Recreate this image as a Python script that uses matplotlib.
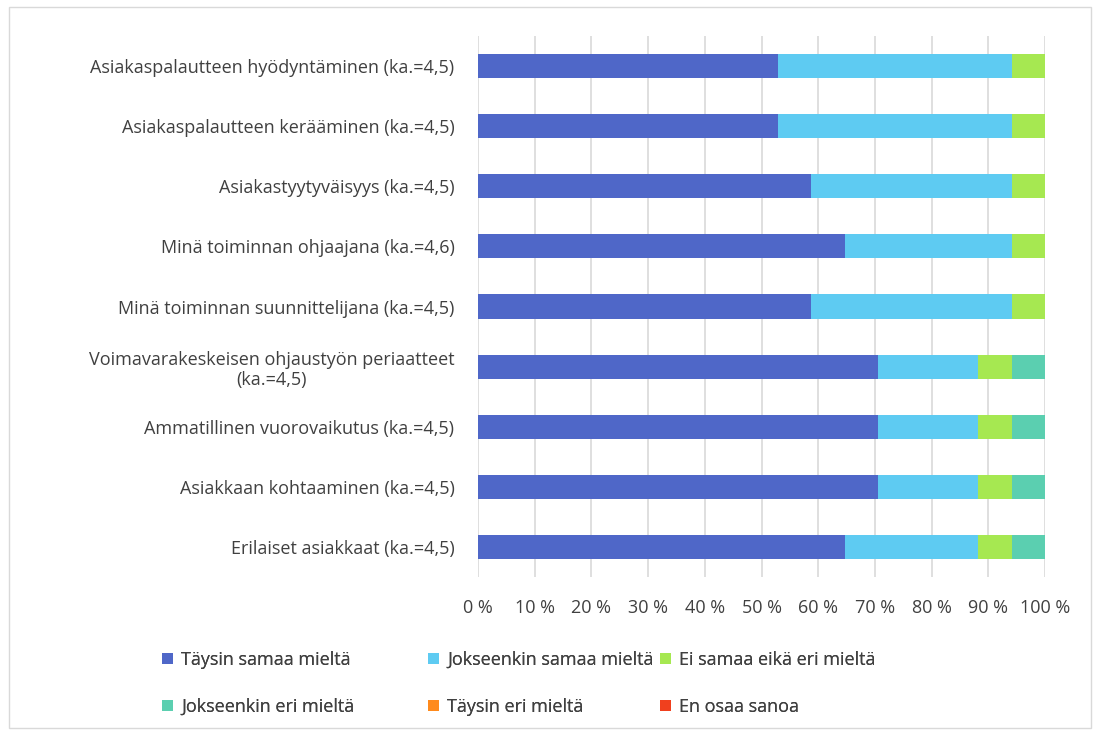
import matplotlib.pyplot as plt
from matplotlib.patches import Rectangle
import numpy as np

plt.rcParams['font.family'] = ['Open Sans', 'DejaVu Sans']

categories = [
    'Asiakaspalautteen hyödyntäminen (ka.=4,5)',
    'Asiakaspalautteen kerääminen (ka.=4,5)',
    'Asiakastyytyväisyys (ka.=4,5)',
    'Minä toiminnan ohjaajana (ka.=4,6)',
    'Minä toiminnan suunnittelijana (ka.=4,5)',
    'Voimavarakeskeisen ohjaustyön periaatteet\n(ka.=4,5)',
    'Ammatillinen vuorovaikutus (ka.=4,5)',
    'Asiakkaan kohtaaminen (ka.=4,5)',
    'Erilaiset asiakkaat (ka.=4,5)',
]

taysin_samaa = [52.9, 52.9, 58.8, 64.7, 58.8, 70.6, 70.6, 70.6, 64.7]
jokseenkin_samaa = [41.2, 41.2, 35.3, 29.4, 35.3, 17.6, 17.6, 17.6, 23.5]
ei_samaa_eika_eri = [5.9, 5.9, 5.9, 5.9, 5.9, 5.9, 5.9, 5.9, 5.9]
jokseenkin_eri = [0, 0, 0, 0, 0, 5.9, 5.9, 5.9, 5.9]
taysin_eri = [0, 0, 0, 0, 0, 0, 0, 0, 0]
en_osaa = [0, 0, 0, 0, 0, 0, 0, 0, 0]

series = [
    ('Täysin samaa mieltä', taysin_samaa, '#4F67C8'),
    ('Jokseenkin samaa mieltä', jokseenkin_samaa, '#5ECBF2'),
    ('Ei samaa eikä eri mieltä', ei_samaa_eika_eri, '#A6E851'),
    ('Jokseenkin eri mieltä', jokseenkin_eri, '#5BCFB0'),
    ('Täysin eri mieltä', taysin_eri, '#FF8A1C'),
    ('En osaa sanoa', en_osaa, '#F0401E'),
]

fig = plt.figure(figsize=(11, 7.35), dpi=100)
ax = fig.add_axes([478 / 1100, 1 - 577 / 735, 567 / 1100, 541 / 735])

y = np.arange(len(categories))
left = np.zeros(len(categories))
handles = []
for name, vals, col in series:
    vals = np.array(vals, dtype=float)
    h = ax.barh(y, vals, left=left, height=0.4, color=col, label=name, zorder=3)
    handles.append(h)
    left += vals

ax.set_xlim(0, 100)
ax.set_ylim(len(categories) - 0.5, -0.5)
ax.set_yticks(y)
ax.set_yticklabels(categories, fontsize=13, color='#404040')
for lbl in ax.get_yticklabels():
    lbl.set_multialignment('center')
ax.set_xticks(np.arange(0, 101, 10))
ax.set_xticklabels([f'{v} %' for v in range(0, 101, 10)], fontsize=13, color='#404040')
ax.tick_params(axis='both', length=0)
ax.tick_params(axis='y', pad=17)
ax.tick_params(axis='x', pad=16)
ax.grid(axis='x', color='#D9D9D9', linewidth=1.2, zorder=0)
for s in ax.spines.values():
    s.set_visible(False)

# legend: three columns placed like the original, filled row by row
col_x = [162, 428, 660]
for i, x0 in enumerate(col_x):
    leg = fig.legend(handles=[handles[i], handles[i + 3]], loc='upper left',
                     bbox_to_anchor=(x0 / 1100, 1 - 651 / 735), frameon=False,
                     fontsize=13, handlelength=0.6, handleheight=0.6,
                     labelspacing=1.6, handletextpad=0.45, borderpad=0,
                     borderaxespad=0, labelcolor='#404040')
    fig.add_artist(leg)

fig.patches.append(Rectangle((0.008, 0.01), 0.984, 0.98, transform=fig.transFigure,
                             fill=False, edgecolor='#D9D9D9', linewidth=1))

fig.savefig('out.png', dpi=100, facecolor='white')
